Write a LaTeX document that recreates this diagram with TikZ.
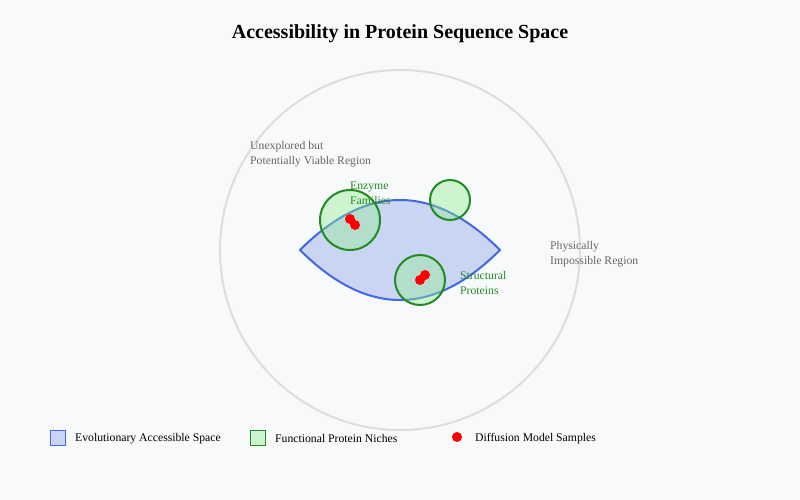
\documentclass[tikz,border=0pt]{standalone}
\usepackage{fontspec}
\setmainfont{Liberation Serif}
\usetikzlibrary{positioning}

\definecolor{bgcol}{HTML}{F8F9FA}
\definecolor{spacegray}{HTML}{DDDDDD}
\definecolor{evoblue}{HTML}{4169E1}
\definecolor{nichegreen}{HTML}{228B22}
\definecolor{nichefill}{HTML}{90EE90}
\definecolor{labelgray}{HTML}{666666}

\tikzset{
  niche/.style={draw=nichegreen, line width=2pt, fill=nichefill, fill opacity=0.4},
  sample/.style={circle, fill=red, inner sep=0pt, minimum size=10pt},
  regionlabel/.style={anchor=north west, inner sep=0pt, align=left, text=labelgray,
    font=\fontsize{11.7}{15}\selectfont},
  nichelabel/.style={regionlabel, text=nichegreen},
  legendtext/.style={anchor=west, inner sep=0pt, font=\fontsize{11.7}{14}\selectfont}
}

\begin{document}
\begin{tikzpicture}[x=1pt,y=-1pt]
\fill[bgcol] (0,0) rectangle (800,500);
\useasboundingbox (0,0) rectangle (800,500);

% title
\node[font=\fontsize{20}{24}\selectfont\bfseries] (title) at (400,33.5) {Accessibility in Protein Sequence Space};

% whole sequence space
\draw[spacegray, line width=2pt] (400,250) circle[radius=180];

% evolutionary accessible space
\draw[evoblue, line width=2pt, fill=evoblue, fill opacity=0.25]
  (300,250) .. controls (366.67,183.33) and (433.33,183.33) .. (500,250)
            .. controls (433.33,316.67) and (366.67,316.67) .. (300,250) -- cycle;

% functional niches
\draw[niche] (350,220) circle[radius=30];
\draw[niche] (450,200) circle[radius=20];
\draw[niche] (420,280) circle[radius=25];

% diffusion samples
\node[sample] (s1) at (350,219) {};
\node[sample] (s2) at (355,225) {};
\node[sample] (s3) at (425,275) {};
\node[sample] (s4) at (420,280) {};

% labels
\node[nichelabel] (enzyme) at (350,181.5) {Enzyme\\Families};
\node[nichelabel] (struct) at (460,271.5) {Structural\\Proteins};
\node[regionlabel] (unexplored) at (250,141.5) {Unexplored but\\Potentially Viable Region};
\node[regionlabel] (impossible) at (550,241.5) {Physically\\Impossible Region};

% legend
\draw[evoblue, line width=1pt, fill=evoblue, fill opacity=0.25] (50,430) rectangle (65,445);
\node[legendtext] (legevo) at (75,438.5) {Evolutionary Accessible Space};
\draw[nichegreen, line width=1pt, fill=nichefill, fill opacity=0.4] (250,430) rectangle (265,445);
\node[legendtext] (legniche) at (275,438.5) {Functional Protein Niches};
\node[sample] (legdot) at (457,437) {};
\node[legendtext] (legsample) at (475,438.5) {Diffusion Model Samples};
\end{tikzpicture}
\end{document}
